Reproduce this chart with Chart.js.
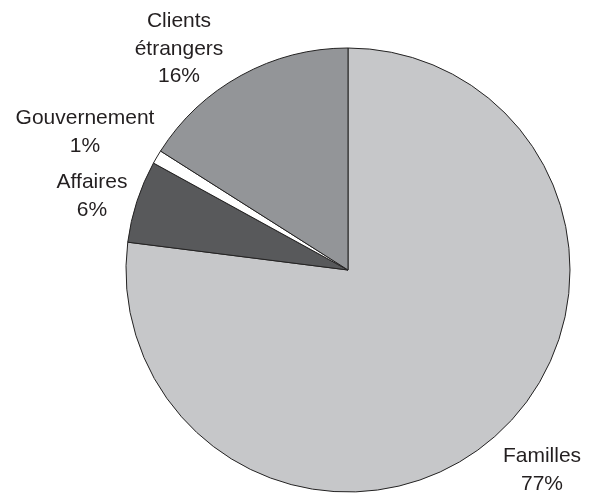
<!DOCTYPE html>
<html lang="fr">
<head>
<meta charset="utf-8">
<title>Répartition de la clientèle</title>
<script src="https://cdn.jsdelivr.net/npm/chart.js@4.4.1/dist/chart.umd.min.js"></script>
<style>
  html, body { margin: 0; padding: 0; background: #fff; }
  #wrap { position: relative; width: 594px; height: 493px; }
</style>
</head>
<body>
<div id="wrap"><canvas id="pie"></canvas></div>
<script>
/* ─── DATA ─── */
const categories = ['Familles', 'Affaires', 'Gouvernement', ['Clients', 'étrangers']];
const shares = [77, 6, 1, 16];

const sliceColors = ['#c6c7c9', '#58595b', '#ffffff', '#939598'];

// label anchor: centre x / first baseline, as offsets from the pie centre
const labelOffsets = [
  { dx: 194, dy: 192 },
  { dx: -256, dy: -82 },
  { dx: -263, dy: -146 },
  { dx: -169, dy: -243 }
];

const FONT = "21px 'Liberation Sans', Arial, sans-serif";
const LINE_H = 27.5;

/* ─── OUTSIDE LABELS ─── */
const outsideLabels = {
  id: 'outsideLabels',
  afterDraw(chart) {
    const ctx = chart.ctx;
    const arcs = chart.getDatasetMeta(0).data;
    ctx.save();
    ctx.font = FONT;
    ctx.fillStyle = '#231f20';
    ctx.textAlign = 'center';
    ctx.textBaseline = 'alphabetic';
    arcs.forEach((arc, i) => {
      const name = categories[i];
      const lines = (Array.isArray(name) ? name : [name]).concat(shares[i] + '%');
      const off = labelOffsets[i];
      lines.forEach((txt, k) => {
        ctx.fillText(txt, arc.x + off.dx, arc.y + off.dy + k * LINE_H);
      });
    });
    ctx.restore();
  }
};

new Chart(document.getElementById('pie'), {
  type: 'pie',
  data: {
    labels: categories,
    datasets: [{
      data: shares,
      backgroundColor: sliceColors,
      borderColor: '#232222',
      borderWidth: 1,
      radius: 222
    }]
  },
  options: {
    responsive: true,
    maintainAspectRatio: false,
    animation: false,
    layout: { padding: { left: 110, right: 8, top: 48, bottom: 1 } },
    plugins: {
      legend: { display: false },
      tooltip: { enabled: false }
    }
  },
  plugins: [outsideLabels]
});
</script>
</body>
</html>
